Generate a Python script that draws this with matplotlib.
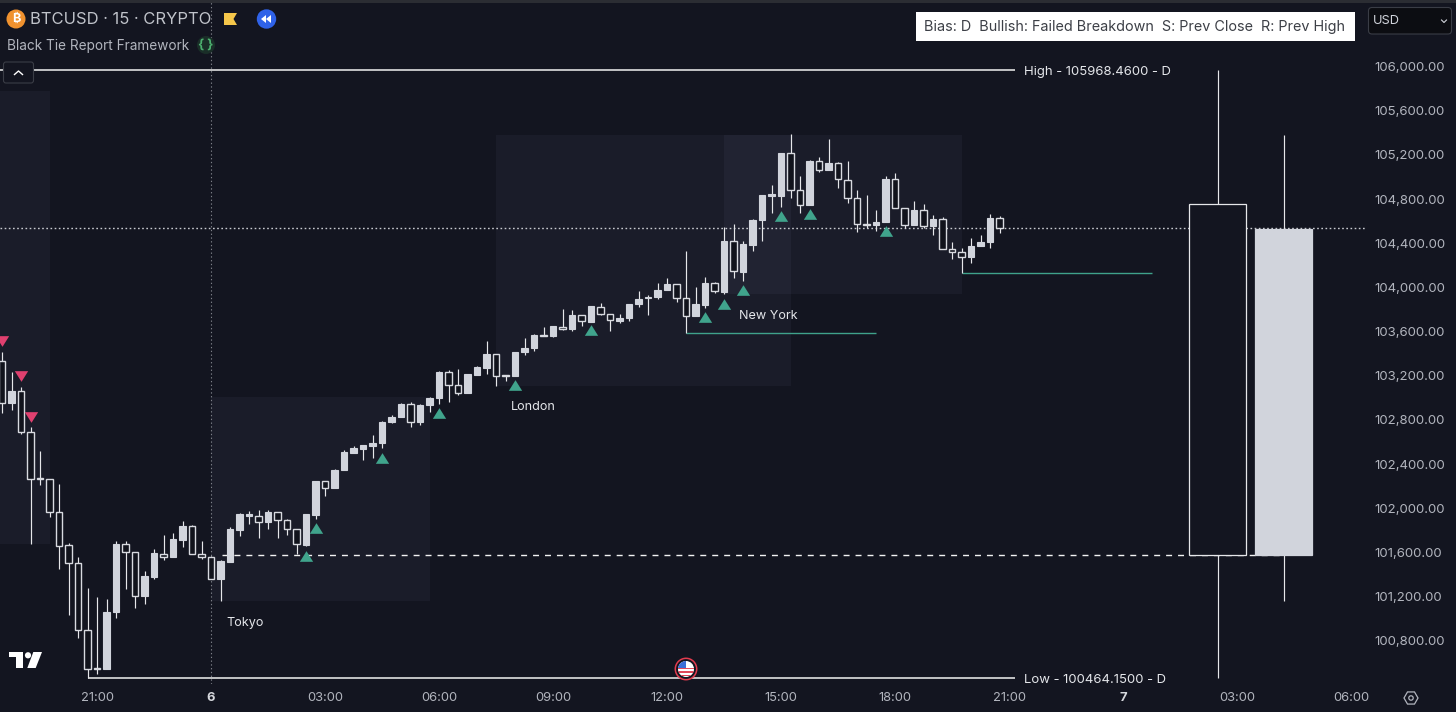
import numpy as np
import matplotlib
matplotlib.use("Agg")
import matplotlib.pyplot as plt
from matplotlib.patches import Rectangle, Circle, Polygon, FancyBboxPatch

plt.rcParams['font.family'] = ['Inter', 'DejaVu Sans']

first_bar = -22
opens = [103331,102957,103062,102688,102274,102262,101970,101665,101508,100898,
         100551,100545,101058,101680,101601,101203,101381,101589,101556,101716,
         101837,101583,101562,101363,101517,101807,101934,101928,101879,101964,
         101891,101810,101671,101943,102244,102181,102344,102504,102540,102564,
         102592,102782,102824,102942,102779,102933,103002,103234,103119,103047,
         103210,103273,103394,103207,103198,103415,103448,103572,103557,103644,
         103620,103747,103690,103825,103756,103696,103723,103847,103901,103913,
         103973,104028,103901,103738,103838,104037,103962,104423,104143,104387,
         104611,104828,104828,105214,104882,104749,105148,105066,105130,104973,
         104810,104571,104562,104596,104979,104716,104562,104701,104556,104623,
         104351,104321,104273,104378,104414,104629]
highs = [103412,103231,103095,102733,102522,102262,102220,101689,101556,101279,
         101194,101182,101701,101701,101601,101429,101632,101758,101773,101888,
         101846,101701,101568,101532,101828,101955,101976,101985,101985,101964,
         101900,101810,101949,102250,102250,102359,102528,102564,102576,102661,
         102794,102845,102954,102960,102942,103005,103243,103252,103258,103219,
         103291,103515,103397,103207,103418,103542,103578,103638,103650,103801,
         103792,103753,103831,103856,103759,103759,103850,103970,103934,104043,
         104088,104031,104329,104007,104098,104049,104550,104574,104423,104617,
         104837,104927,105220,105389,105009,105154,105178,105344,105133,105142,
         104885,104834,104701,105006,105033,104722,104783,104755,104653,104641,
         104411,104354,104445,104472,104665,104644]
lows = [102866,102890,102676,101677,102214,101918,101451,101034,100829,100461,
        100500,100545,101010,101266,101094,101137,101363,101535,101556,101653,
        101589,101544,101363,101161,101517,101749,101855,101734,101816,101731,
        101759,101587,101659,101903,102109,102181,102344,102504,102441,102459,
        102543,102770,102824,102736,102758,102875,102948,102965,103026,103047,
        103210,103213,103110,103152,103198,103391,103427,103560,103554,103614,
        103608,103650,103690,103750,103605,103681,103696,103819,103747,103898,
        103973,103868,103590,103738,103817,103953,103938,104085,104058,104330,
        104423,104677,104731,104810,104677,104749,105042,105066,104903,104765,
        104505,104535,104514,104596,104716,104535,104562,104535,104475,104351,
        104261,104128,104224,104378,104357,104493]
closes = [102957,103062,102688,102262,102262,101970,101662,101508,100901,100545,
          100542,101058,101680,101601,101203,101384,101592,101556,101719,101840,
          101589,101562,101363,101520,101810,101946,101946,101879,101964,101891,
          101810,101674,101946,102244,102181,102347,102507,102543,102570,102592,
          102782,102824,102942,102785,102933,102999,103234,103119,103047,103213,
          103276,103394,103198,103201,103412,103451,103569,103563,103647,103626,
          103747,103693,103828,103762,103702,103726,103847,103892,103916,103973,
          104028,103907,103741,103847,104037,103968,104423,104152,104390,104614,
          104837,104846,105214,104882,104749,105148,105066,105130,104979,104810,
          104574,104562,104592,104982,104716,104562,104701,104553,104623,104351,
          104321,104273,104378,104411,104632,104535]

daily_x = [105.95, 112.9]
daily_open = [104755, 101578]
daily_high = [105968.46, 105380]
daily_low = [100464.15, 101161]
daily_close = [101578, 104529]

up_x = [10, 11, 18, 24, 32, 40, 52, 54, 56, 60, 63, 71]
up_y = [101569, 101822, 102456, 102863, 103117, 103615, 103732, 103850, 103977, 104647, 104665, 104511]
down_x = [-22, -20, -19]
down_y = [103515, 103198, 102831]

sessions = [("", -30, -17, 101677, 105778),
            ("Tokyo", 0, 23, 101161, 103008),
            ("London", 30, 61, 103108, 105380),
            ("New York", 54, 79, 103940, 105380)]
session_labels = [("Tokyo", 1.6, 100965), ("London", 31.6, 102920), ("New York", 55.6, 103745)]

price_ticks = list(range(106000, 100799, -400))
time_ticks = [-12, 0, 12, 24, 36, 48, 60, 72, 84, 96, 108, 120]
time_labels = ["21:00", "6", "03:00", "06:00", "09:00", "12:00", "15:00", "18:00", "21:00", "7", "03:00", "06:00"]

BG = '#131520'
CANDLE = '#d1d4dc'
GREEN = '#40a48c'
LINE_GREEN = '#3fa28b'
TXT = '#b2b5be'

fig = plt.figure(figsize=(14.56, 7.12), dpi=100, facecolor=BG)
W, H = 1456, 712
AX_R, AX_B = 1365, 684
ax = fig.add_axes([0, (H-AX_B)/H, AX_R/W, AX_B/H], facecolor=BG)
ax.set_xlim((0-211)/9.5, (AX_R-211)/9.5)
ax.set_ylim(106602-AX_B*9.053, 106602)
for s in ax.spines.values():
    s.set_visible(False)

# sessions
for _, x0, x1, y0, y1 in sessions:
    ax.add_patch(Rectangle((x0, y0), x1-x0, y1-y0, facecolor='#c0c8ff', alpha=0.045, edgecolor='none', zorder=1))
for name, x, y in session_labels:
    ax.text(x, y, name, color='#e4e6ea', fontsize=9.1, va='center', ha='left', zorder=6)

# reference lines
last = closes[-1]
ax.axhline(last, color='#c8cad0', lw=1.0, linestyle=(0, (1.2, 1.8)), zorder=2)
ax.axvline(0, ymin=0.0, color='#7d8088', lw=0.8, linestyle=(0, (1.2, 2.2)), zorder=2)
ax.hlines(max(daily_high), -22.3, 84.6, color='#f2f2f2', lw=1.1, zorder=3)
ax.hlines(min(daily_low), -13, 84.6, color='#f2f2f2', lw=1.1, zorder=3)
ax.text(85.55, max(daily_high)-15, "High - 105968.4600 - D", color='#e4e6ea', fontsize=9.45, va='center', zorder=6)
ax.text(85.55, min(daily_low)-15, "Low - 100464.1500 - D", color='#e4e6ea', fontsize=9.45, va='center', zorder=6)
ax.hlines(daily_open[1], 1.2, 113, color='#f2f2f2', lw=1.0, linestyle=(0, (4.3, 4.3)), zorder=3)
ax.hlines(lows[50-first_bar], 50, 70, color=LINE_GREEN, lw=1.0, zorder=3)
ax.hlines(lows[79-first_bar], 79, 99, color=LINE_GREEN, lw=1.0, zorder=3)

# intraday candles
idx = np.arange(first_bar, first_bar+len(opens))
o, h, l, c = map(np.array, (opens, highs, lows, closes))
top = np.maximum(o, c)
bot = np.minimum(o, c)
rising = c > o
ax.vlines(idx, l, h, color='#e6e7ea', lw=0.85, zorder=4)
ax.bar(idx[rising], (top-bot)[rising], bottom=bot[rising], width=0.68, color=CANDLE,
       edgecolor=CANDLE, linewidth=0.8, zorder=5)
ax.bar(idx[~rising], (top-bot)[~rising], bottom=bot[~rising], width=0.66, color='#11131c',
       edgecolor='#d8dae0', linewidth=1.0, zorder=5)

# daily candles
dx = np.array(daily_x)
dopen, dclose = np.array(daily_open), np.array(daily_close)
ax.vlines(dx, daily_low, daily_high, color='#e6e7ea', lw=0.85, zorder=4)
for x, op, cl in zip(dx, dopen, dclose):
    rise = cl > op
    ax.bar(x, abs(cl-op), bottom=min(op, cl), width=6.0, color=CANDLE if rise else BG,
           edgecolor=CANDLE if rise else '#e6e7ea', linewidth=0.9, zorder=5)

# signals
up_marker = [(-1, -0.8), (1, -0.8), (0, 0.8)]
down_marker = [(-1, 0.8), (1, 0.8), (0, -0.8)]
ax.scatter(up_x, up_y, marker=up_marker, s=92, color=GREEN, linewidths=0, zorder=6)
ax.scatter(down_x, down_y, marker=down_marker, s=92, color='#e0406f', linewidths=0, zorder=6)

# axes
ax.yaxis.tick_right()
ax.set_yticks(price_ticks)
ax.set_yticklabels([f"{p:,.2f}" for p in price_ticks], color=TXT, fontsize=9.5)
ax.set_xticks(time_ticks)
ax.set_xticklabels(time_labels, color=TXT, fontsize=9.3)
for lab, txt in zip(ax.get_xticklabels(), time_labels):
    if len(txt) == 1:
        lab.set_fontweight('bold')
        lab.set_color('#d6d8dd')
ax.tick_params(axis='both', length=0)
ax.tick_params(axis='y', pad=7.0)
ax.tick_params(axis='x', pad=5.5)

# chrome in pixel coordinates
ov = fig.add_axes([0, 0, 1, 1], facecolor='none')
ov.set_xlim(0, W)
ov.set_ylim(H, 0)
ov.axis('off')
ov.add_patch(Rectangle((0, 0), W, 2.5, facecolor='#2b2d33', edgecolor='none'))
ov.add_patch(Circle((16, 19), 9.5, facecolor='#f0922f', edgecolor='none'))
ov.text(16, 19.2, "₿", color='white', fontsize=9, ha='center', va='center',
        family=['Inter', 'Roboto', 'Noto Sans', 'Open Sans', 'Lato', 'Liberation Sans', 'DejaVu Sans'], fontweight='bold')
ov.text(30, 20, "BTCUSD · 15 · CRYPTO", color='#c0c3ca', fontsize=11.95, va='center')
ov.add_patch(Polygon([(224, 13), (237, 13), (233.5, 19), (237, 25), (224, 25)], facecolor='#f5c64a', edgecolor='none'))
ov.add_patch(Circle((266.5, 19), 9.7, facecolor='#2f62e8', edgecolor='none'))
for dx_ in (0, 5):
    ov.add_patch(Polygon([(261+dx_, 19), (266+dx_, 15), (266+dx_, 23)], facecolor='white', edgecolor='none'))
ov.text(7, 46, "Black Tie Report Framework", color='#b2b5be', fontsize=9.8, va='center')
ov.add_patch(Circle((206, 45), 9, facecolor='#1a2e28', edgecolor='none'))
ov.text(206, 44.5, "{ }", color='#4caf6e', fontsize=9.5, ha='center', va='center', fontweight='bold')
ov.add_patch(FancyBboxPatch((3.5, 62), 30, 21, boxstyle="round,pad=0,rounding_size=2.5",
                            facecolor=BG, edgecolor='#3a3d46', lw=0.8, zorder=7))
ov.plot([14.5, 18.5, 22.5], [74.5, 71, 74.5], color='white', lw=1.0, zorder=8)
ov.add_patch(Rectangle((915.5, 12), 439, 29, facecolor='white', edgecolor='none'))
ov.text(924, 27, "Bias: D  Bullish: Failed Breakdown  S: Prev Close  R: Prev High", color='#3c3f46',
        fontsize=10.36, va='center')
ov.add_patch(FancyBboxPatch((1368.5, 7.5), 83, 26.5, boxstyle="round,pad=0,rounding_size=3.5",
                            facecolor='#0c0d12', edgecolor='#3a3d46', lw=0.8))
ov.text(1373, 21, "USD", color='#d1d4dc', fontsize=9.2, va='center')
ov.plot([1441.5, 1444, 1446.5], [20, 22.5, 20], color='#d1d4dc', lw=0.8)

# TradingView mark
ov.add_patch(Polygon([(9.3, 652), (22.7, 652), (22.7, 668), (15.7, 668), (15.7, 657), (9.3, 657)],
                     facecolor='white', edgecolor='none'))
ov.add_patch(Circle((28, 655.3), 3.1, facecolor='white', edgecolor='none'))
ov.add_patch(Polygon([(33.3, 652), (42, 652), (35.7, 668), (27.3, 668)], facecolor='white', edgecolor='none'))

# event flag
cx, cy = 686, 669
ov.add_patch(Circle((cx, cy), 10.7, facecolor=BG, edgecolor='#e23b4e', lw=1.1, zorder=8))
inner = Circle((cx, cy), 8, facecolor='white', edgecolor='none', zorder=8)
ov.add_patch(inner)
for yy in (cy-1.5, cy+2, cy+5.5):
    r = Rectangle((cx-9, yy), 18, 1.8, facecolor='#e2475a', edgecolor='none', zorder=9)
    ov.add_patch(r)
    r.set_clip_path(inner)
r = Rectangle((cx-9, cy-9), 9, 8, facecolor='#3a6fd8', edgecolor='none', zorder=10)
ov.add_patch(r)
r.set_clip_path(inner)

# settings glyph
ang = np.deg2rad(np.arange(0, 360, 60))
ov.add_patch(Polygon(np.c_[1411+7*np.cos(ang), 698+7*np.sin(ang)], facecolor='none', edgecolor=TXT, lw=0.9))
ov.add_patch(Circle((1411, 698), 2.2, facecolor='none', edgecolor=TXT, lw=0.9))

fig.savefig("out.png", dpi=100, facecolor=BG)
